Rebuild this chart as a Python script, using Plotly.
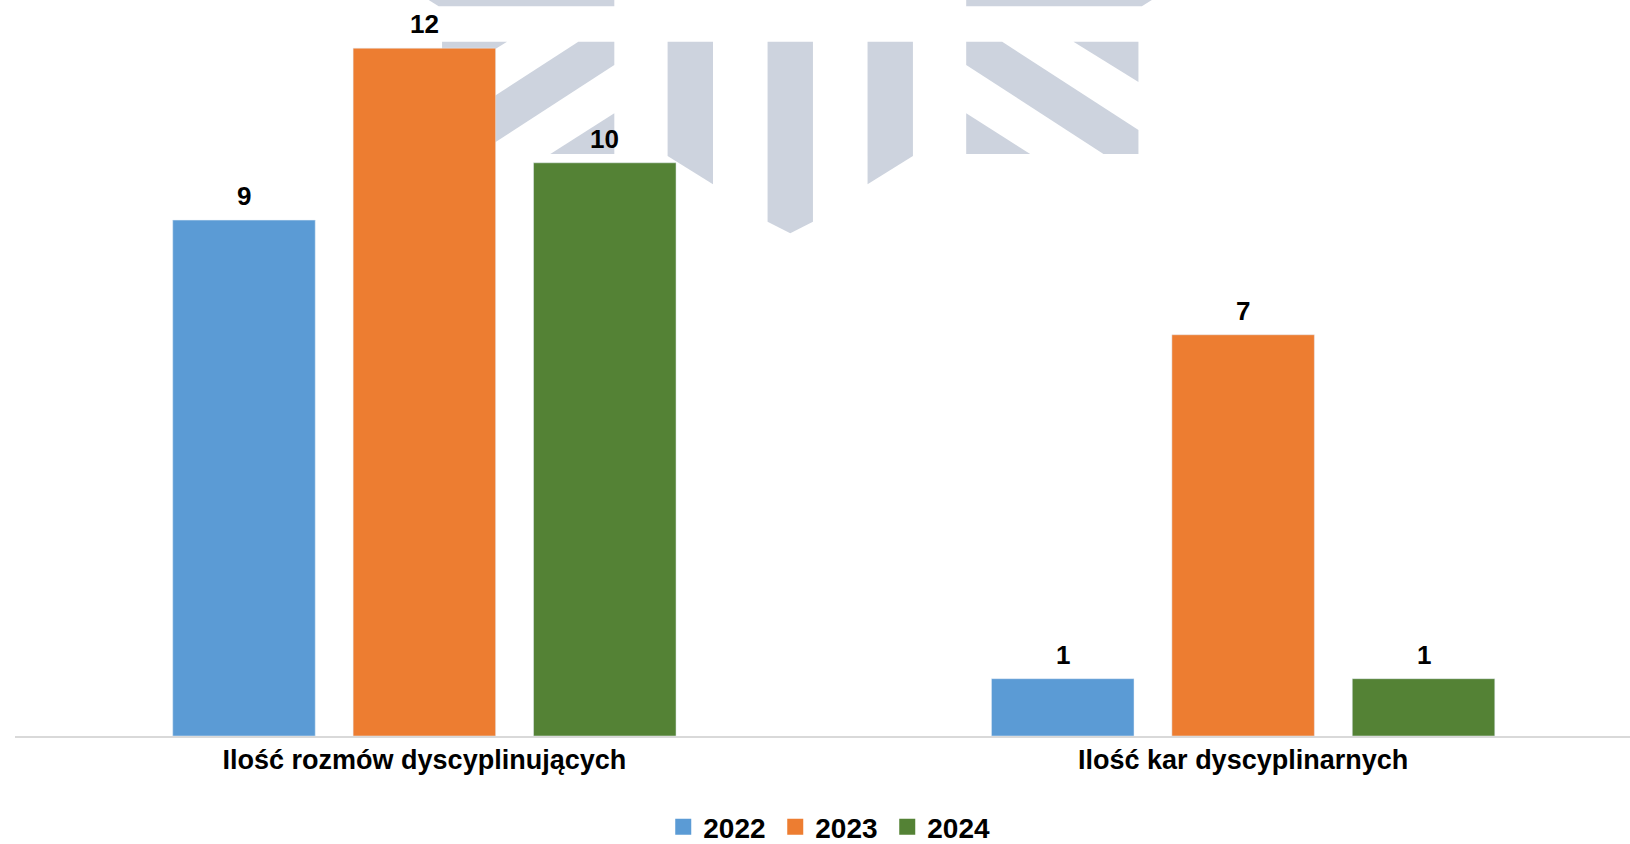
import plotly.graph_objects as go

categories = ["Ilość rozmów dyscyplinujących", "Ilość kar dyscyplinarnych"]
years = ["2022", "2023", "2024"]
values_2022 = [9, 1]
values_2023 = [12, 7]
values_2024 = [10, 1]
series_values = [values_2022, values_2023, values_2024]
colors = ["#5b9bd5", "#ed7d31", "#548235"]

W, H = 1630, 844
ML, MR, MT, MB = 14.5, 0, 0, 108
PW, PH = W - ML - MR, H - MT - MB

FONT = "Liberation Sans, Arial, sans-serif"
BARGAP = 0.339
BARGROUPGAP = 0.21

fig = go.Figure()
for name, vals, col in zip(years, series_values, colors):
    fig.add_trace(go.Bar(
        x=categories, y=vals, name=name, marker_color=col,
        showlegend=False, legendgroup=name, hoverinfo="x+y+name",
    ))
for name, col in zip(years, colors):
    fig.add_trace(go.Scatter(
        x=[None], y=[None], mode="markers", name=name, legendgroup=name,
        marker=dict(symbol="square", size=17, color=col),
    ))

# value labels above bars, placed at the grouped-bar centres
n = len(series_values)
slot = (1 - BARGAP) / n
annotations = []
for i, vals in enumerate(series_values):
    off = (i - (n - 1) / 2) * slot
    for ci, v in enumerate(vals):
        annotations.append(dict(
            x=ci + off, y=v, xref="x", yref="y", text=str(v), showarrow=False,
            yanchor="middle", yshift=24,
            font=dict(family=FONT, size=26, color="#000000", weight="bold"),
        ))

# background watermark logo (decorative)
CX = 790.0
def to_paper(pts):
    return [((x - ML) / PW, (H - MB - y) / PH) for x, y in pts]

def path(pts):
    p = to_paper(pts)
    return "M" + "L".join(f"{x:.5f},{y:.5f}" for x, y in p) + "Z"

right_polys = [
    [(966, 0), (1151.7, 0), (1141.7, 6.2), (966, 6.2)],
    [(966, 41.7), (1002, 41.7), (1138.3, 130), (1138.3, 154), (1103.3, 154), (966, 65)],
    [(1073.3, 41.7), (1138.3, 41.7), (1138.3, 82)],
    [(966, 113.3), (966, 154), (1030, 154)],
    [(867.3, 41.7), (912.7, 41.7), (912.7, 156), (867.3, 184.3)],
]
polys = list(right_polys)
for poly in right_polys:
    polys.append([(2 * CX - x, y) for x, y in poly])
polys.append([(767.3, 41.7), (812.7, 41.7), (812.7, 221.7), (790, 233.3), (767.3, 221.7)])

shapes = [dict(type="path", xref="paper", yref="paper", path=path(p),
               fillcolor="#cdd3de", line=dict(width=0), layer="below") for p in polys]

fig.update_layout(
    width=W, height=H,
    margin=dict(l=ML, r=MR, t=MT, b=MB, pad=0),
    paper_bgcolor="white", plot_bgcolor="white",
    barmode="group", bargap=BARGAP, bargroupgap=BARGROUPGAP,
    shapes=shapes, annotations=annotations,
    xaxis=dict(
        type="category", range=[-0.5, 1.4725],
        showline=True, linecolor="#d9d9d9", linewidth=1.5,
        ticks="", showgrid=False, zeroline=False,
        tickfont=dict(family=FONT, size=27, color="#000000", weight="bold"),
        ticklabelstandoff=-1,
    ),
    yaxis=dict(range=[0, 12.84], visible=False, showgrid=False, zeroline=False),
    legend=dict(
        orientation="h", xanchor="center", yanchor="middle",
        x=(831 - ML) / PW, yref="container", y=1 - 827 / H,
        font=dict(family=FONT, size=28, color="#000000", weight="bold"),
        itemsizing="trace", entrywidth=67,
    ),
    font=dict(family=FONT, color="#000000"),
)

fig.write_html(
    "out.html",
    config={"displayModeBar": False},
    post_script="document.body.style.margin='0px';document.body.style.overflow='hidden';",
)
